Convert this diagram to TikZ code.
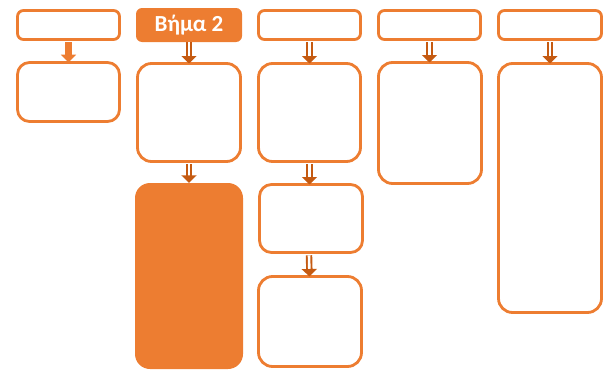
\documentclass[tikz,border=0pt]{standalone}
\usepackage{fontspec}
\setmainfont{Carlito}
\usetikzlibrary{arrows.meta}
\definecolor{orng}{HTML}{ED7D31}
\definecolor{arrc}{HTML}{C55A11}
\tikzset{
  box/.style={draw=orng, line width=2.8pt, fill=white, inner sep=0pt, rounded corners=#1},
  box/.default=14pt,
  fbox/.style={fill=orng, draw=none, inner sep=0pt, rounded corners=#1},
  fbox/.default=14pt,
  harrow/.style={draw=arrc, line width=1.9pt, double=white, double distance=2.6pt,
    -{Triangle[length=7.5pt,width=15pt]}},
  sarrow/.style={draw=orng, line width=7.5pt, -{Triangle[length=8pt,width=15pt]}},
}
\begin{document}
\begin{tikzpicture}[x=1pt,y=-1pt]
\path[use as bounding box] (0,0) rectangle (610,372);
% column 1
\node[box=6pt, minimum width=102pt, minimum height=29pt] (c1t) at (68.5,25) {};
\node[box=12pt, minimum width=102pt, minimum height=59pt] (c1b) at (68.5,92) {};
% column 2
\node[fbox=6pt, minimum width=106pt, minimum height=34pt, text=white, font=\bfseries\fontsize{23}{26}\selectfont] (c2t) at (189,25) {Βήμα 2};
\node[box, minimum width=103pt, minimum height=98pt] (c2m) at (189,112.5) {};
\node[fbox=15pt, minimum width=108pt, minimum height=186pt] (c2b) at (189,276) {};
% column 3
\node[box=6pt, minimum width=102pt, minimum height=29pt] (c3t) at (309.5,25) {};
\node[box, minimum width=102pt, minimum height=98pt] (c3m) at (309.5,112.5) {};
\node[box=12pt, minimum width=103pt, minimum height=68pt] (c3n) at (311,218.5) {};
\node[box, minimum width=103pt, minimum height=90pt] (c3b) at (310,321.5) {};
% column 4
\node[box=6pt, minimum width=102pt, minimum height=29pt] (c4t) at (429.5,25) {};
\node[box, minimum width=103pt, minimum height=121pt] (c4m) at (430,123) {};
% column 5
\node[box=6pt, minimum width=103pt, minimum height=29pt] (c5t) at (550,25) {};
\node[box, minimum width=103pt, minimum height=249pt] (c5m) at (550,188) {};
% arrows
\draw[sarrow] ([yshift=-1.4pt]c1t.south) -- ([yshift=-1.4pt]c1b.north);
\draw[harrow] (c2t.south) -- ([yshift=-1.4pt]c2m.north);
\draw[harrow] ([yshift=-1.4pt]c2m.south) -- (c2m.south |- c2b.north);
\draw[harrow] ([yshift=-1.4pt]c3t.south) -- ([yshift=-1.4pt]c3m.north);
\draw[harrow] ([yshift=-1.4pt]c3m.south) -- ([yshift=-1.4pt]c3m.south |- c3n.north);
\draw[harrow] ([xshift=-2pt,yshift=-1.4pt]c3n.south) -- ([yshift=-1.4pt]c3m.south |- c3b.north);
\draw[harrow] ([yshift=-1.4pt]c4t.south) -- ([yshift=-1.4pt]c4t.south |- c4m.north);
\draw[harrow] ([yshift=-1.4pt]c5t.south) -- ([yshift=-1.4pt]c5m.north);
\end{tikzpicture}
\end{document}
